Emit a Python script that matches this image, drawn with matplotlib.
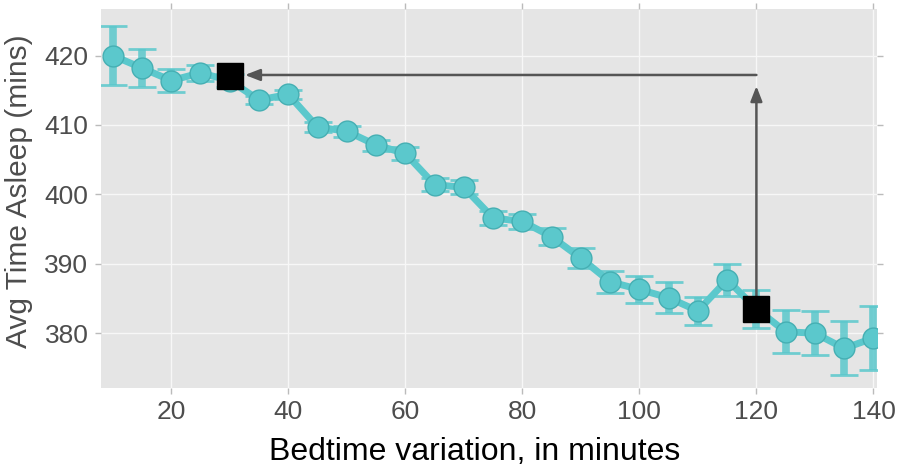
import numpy as np
import matplotlib
matplotlib.use("Agg")
import matplotlib.pyplot as plt

plt.rcParams['font.family'] = ['Liberation Sans', 'DejaVu Sans']

# bedtime variation (minutes) and average time asleep (minutes)
variation = [10, 15, 20, 25, 30, 35, 40, 45, 50, 55, 60, 65, 70, 75,
             80, 85, 90, 95, 100, 105, 110, 115, 120, 125, 130, 135, 140]
asleep = [420.0, 418.2, 416.4, 417.5, 416.4, 413.6, 414.4, 409.7, 409.1, 407.1,
          405.9, 401.4, 401.0, 396.6, 396.1, 393.9, 390.8, 387.4, 386.3, 385.1,
          383.2, 387.7, 383.5, 380.2, 380.0, 377.8, 379.3]
err = [4.3, 2.7, 1.7, 1.2, 1.0, 0.6, 0.7, 0.7, 0.8, 0.8, 0.9, 0.9, 1.0, 1.0,
       1.1, 1.2, 1.4, 1.6, 1.9, 2.2, 2.0, 2.3, 2.7, 3.1, 3.2, 3.9, 4.6]

# highlighted points and arrows
marked_x = [30, 120]
marked_y = [417.1, 383.5]
horiz_arrow = [(120, 417.2), (32.6, 417.2)]
vert_arrow = [(120, 383.5), (120, 415.6)]

teal = '#5BC8CC'
fig = plt.figure(figsize=(9, 4.76), dpi=100)
ax = fig.add_axes([0.1122, 0.1849, 0.8622, 0.7961])
ax.set_facecolor('#E5E5E5')

ax.errorbar(variation, asleep, yerr=err, fmt='none', ecolor=teal, elinewidth=5.5,
            capsize=10, capthick=2, alpha=0.85, zorder=2)
ax.plot(variation, asleep, '-', color=teal, lw=5, zorder=3)
ax.plot(variation, asleep, 'o', color=teal, markersize=15,
        markeredgecolor='#45AFB3', markeredgewidth=1, zorder=4)

ax.annotate('', xy=horiz_arrow[1], xytext=horiz_arrow[0],
            arrowprops=dict(arrowstyle='-|>,head_length=0.9,head_width=0.35',
                            color='#555555', lw=1.8, shrinkA=0, shrinkB=0), zorder=5)
ax.annotate('', xy=vert_arrow[1], xytext=vert_arrow[0],
            arrowprops=dict(arrowstyle='-|>,head_length=0.9,head_width=0.35',
                            color='#555555', lw=1.8, shrinkA=0, shrinkB=0), zorder=5)
ax.plot(marked_x, marked_y, 's', color='black', markersize=19, zorder=6)

ax.set_xlim(8.0, 140.6)
ax.set_ylim(372.1, 426.7)
ax.set_xticks([20, 40, 60, 80, 100, 120, 140])
ax.set_yticks([380, 390, 400, 410, 420])
ax.grid(True, color='#F7F7F7', lw=1.0)
ax.set_axisbelow(True)
for s in ax.spines.values():
    s.set_visible(False)
ax.tick_params(which='both', direction='out', length=4, width=1, color='#BBBBBB',
               top=True, right=True, labelsize=19, labelcolor='#4D4D4D', pad=5)

ax.set_xlabel('Bedtime variation, in minutes', fontsize=23, color='black')
ax.set_ylabel('Avg Time Asleep (mins)', fontsize=21.5, color='#4D4D4D')
ax.xaxis.set_label_coords(0.481, -0.13)
ax.yaxis.set_label_coords(-0.087, 0.52)

fig.savefig('out.png', dpi=100)
